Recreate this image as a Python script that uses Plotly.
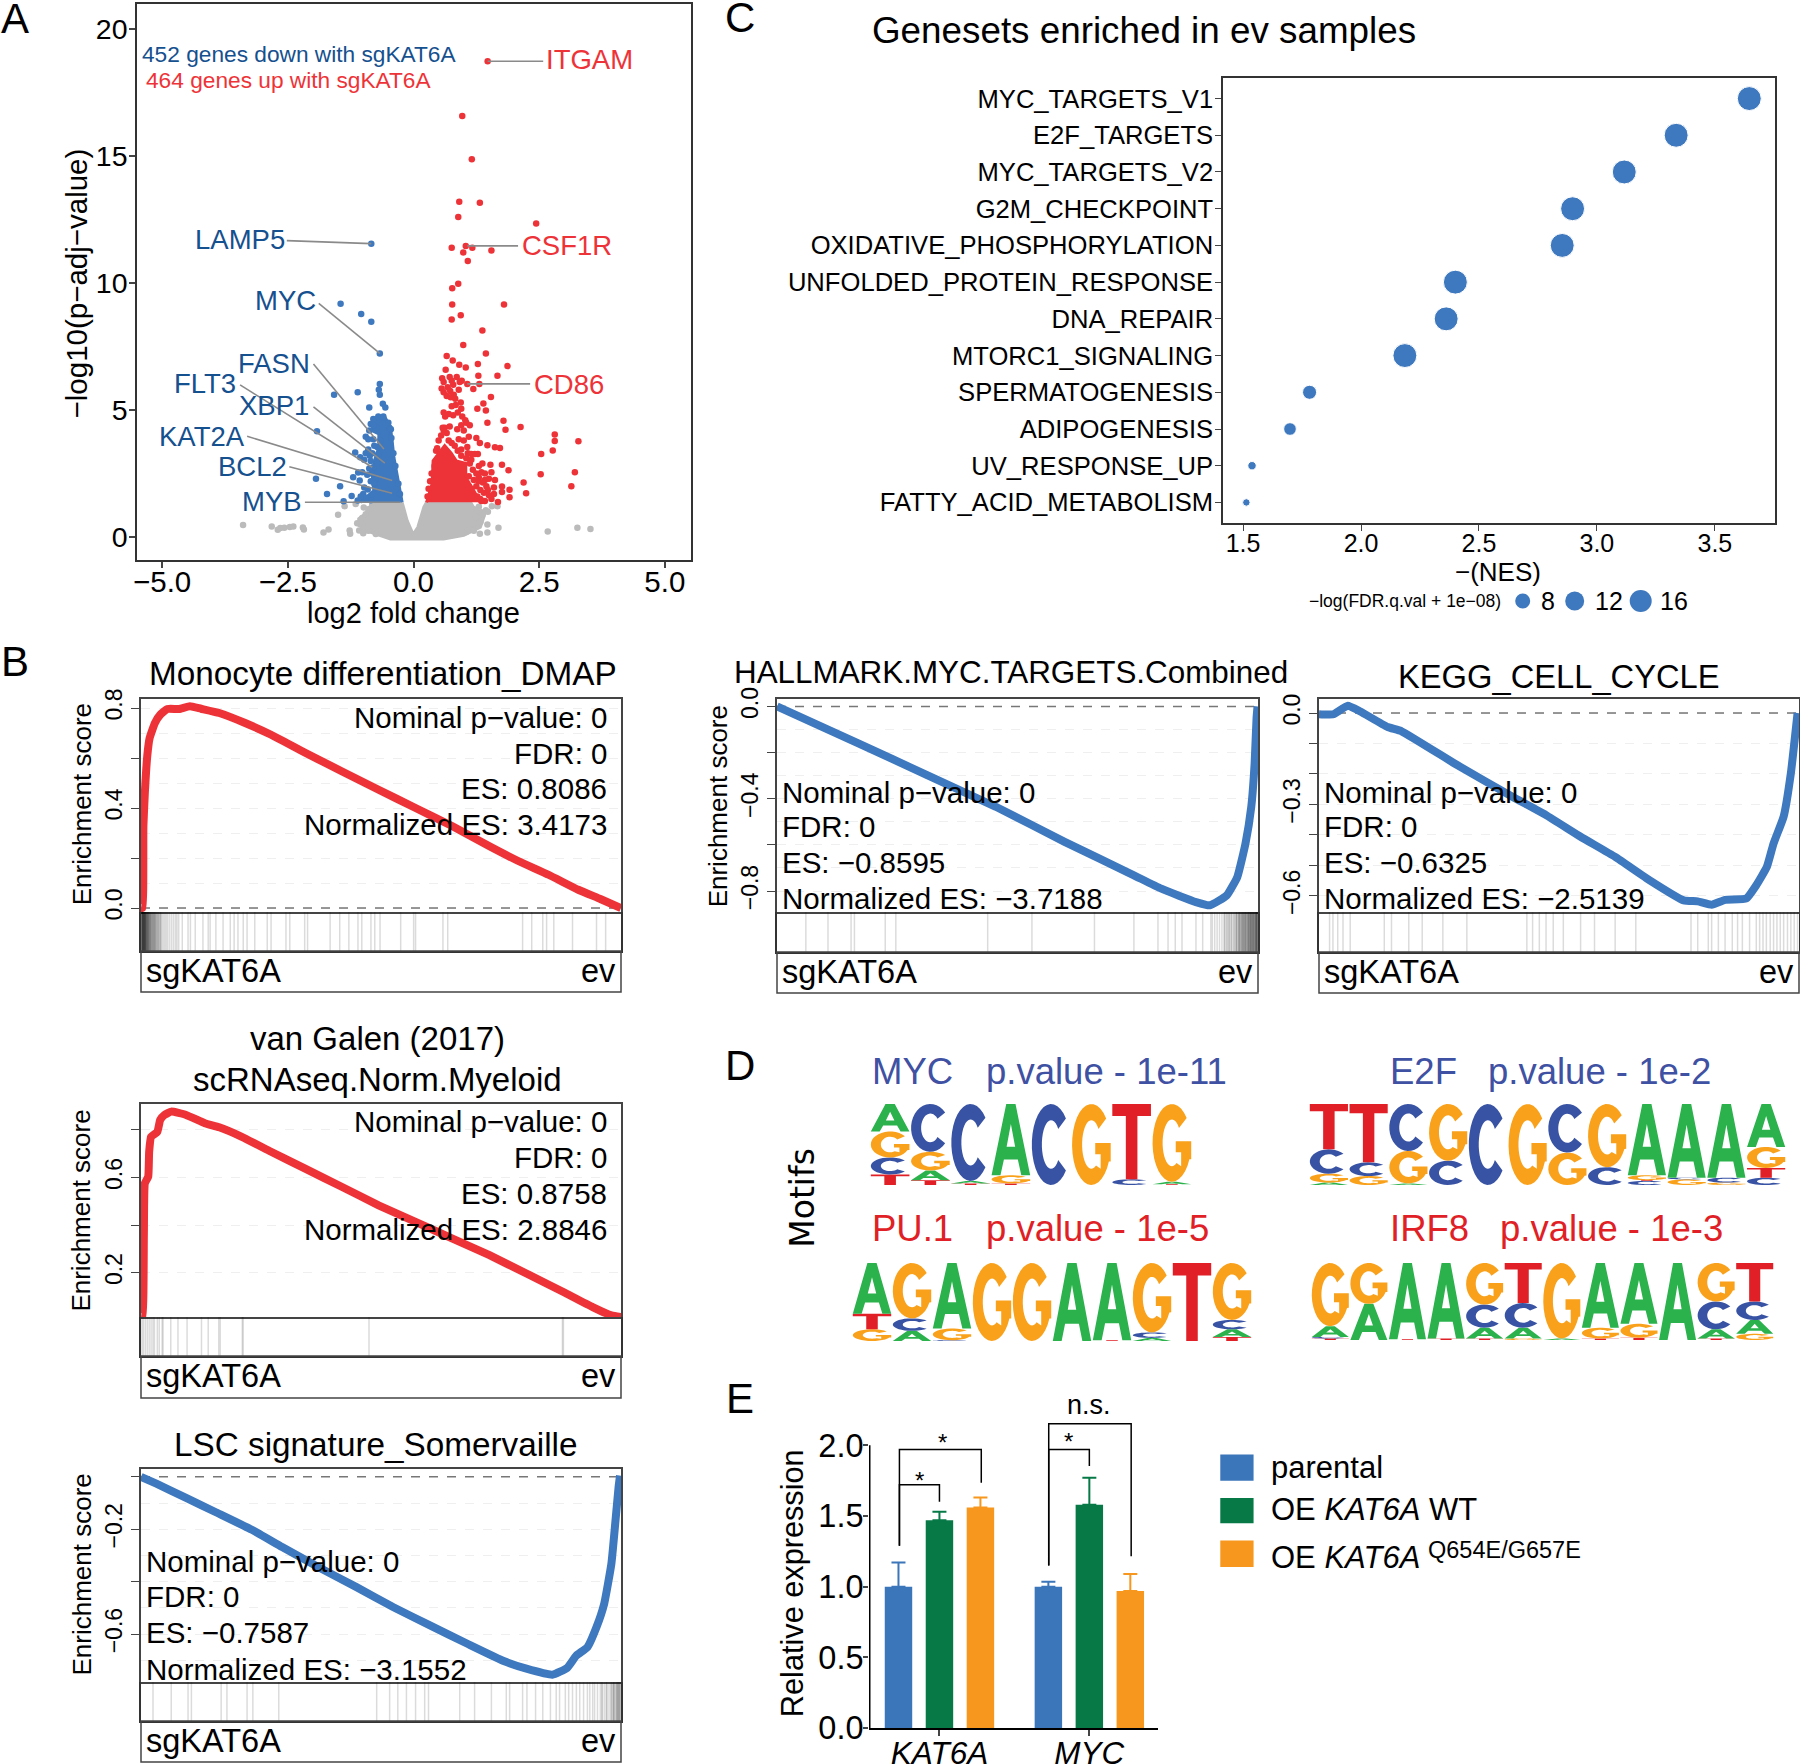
import numpy as np
import plotly.graph_objects as go

W, H = 1800, 1764
OV = 1800 / 1568      # overview picture -> full-size pixels
FONT = "Liberation Sans"
BLUE, RED, GREY = "#3E78BE", "#EE3338", "#BBBBBB"
LBL_BLUE, LBL_RED = "#15508F", "#EE3338"

# ---------- A: volcano ----------
GREY_MASS = [(-0.226, 1.37), (-0.126, 0.65), (-0.027, 0.2), (0, 0.13), (0.086, 0.39), (0.206, 1.18), (0.26, 1.37),
             (1.135, 1.37), (1.27, 0.92), (1.40, 0.79), (1.33, 0.39), (1.0, 0.07), (0.6, -0.07), (-0.46, -0.07),
             (-0.86, 0.2), (-1.09, 0.46), (-1.09, 0.72), (-0.956, 0.92), (-0.857, 1.24), (-0.79, 1.37)]
GREY_PTS = [(-3.39, .48), (-2.82, .42), (-2.70, .29), (-2.65, .36), (-2.57, .37), (-2.46, .40), (-2.39, .42), (-2.2, .38),
            (-2.18, .30), (-1.79, .18), (-1.69, .30), (-1.27, .26), (-1.26, .13), (-1.08, .26), (-1.50, .88), (-1.37, 1.22),
            (-.99, 1.17), (-1.15, 1.3), (1.47, .5), (1.47, .18), (1.32, .13), (1.69, .37), (1.67, 1.22), (1.56, 1.22),
            (1.44, 1.06), (1.35, .98), (1.48, 1.0), (2.67, .22), (3.26, .37), (3.52, .32), (1.26, .74), (1.2, 1.1),
            (1.15, 0.95), (1.1, 0.3), (1.2, .55), (-1.0, .15), (-1.12, .55), (-0.98, .36), (-1.05, .6), (-1.02, .75), (-.95, .9),
            (-.9, 1.1), (-.82, 1.28), (1.3, 1.2), (1.25, 1.05), (1.38, .9), (1.33, .6), (1.2, .25), (1.05, .2), (-.75, .12), (-.9, .25)]
BLUE_MASS = [(-0.226, 1.37), (-0.325, 2.36), (-0.39, 3.14), (-0.425, 3.80), (-0.458, 4.32), (-0.558, 4.69), (-0.757, 4.69),
             (-0.823, 4.19), (-0.69, 4.06), (-0.69, 3.53), (-0.757, 3.14), (-0.823, 2.49), (-0.79, 1.83), (-1.06, 1.37)]
BLUE_PTS = [(-0.84, 11.55), (-1.45, 9.18), (-1.04, 8.78), (-0.84, 8.48), (-0.67, 7.23), (-0.67, 6.03), (-0.69, 5.8),
            (-0.67, 5.6), (-1.11, 5.7), (-1.58, 5.6), (-0.61, 5.25), (-0.56, 5.1), (-0.88, 5.1), (-1.92, 4.17), (-1.16, 3.33),
            (-1.06, 3.14), (-0.87, 3.2), (-0.82, 3.3), (-1.2, 2.36), (-1.10, 2.54), (-1.02, 2.55), (-1.94, 2.30), (-1.46, 2.0),
            (-1.72, 1.70), (-1.23, 1.62), (-1.07, 2.23), (-0.91, 1.87), (-1.39, 1.41), (-1.11, 1.44), (-0.99, 1.48),
            (-0.95, 3.95), (-0.9, 3.85), (-0.88, 4.2), (-0.85, 4.45), (-0.8, 4.65), (-0.48, 4.3), (-0.45, 4.25), (-0.85, 3.0),
            (-0.8, 2.75), (-0.83, 2.5), (-0.85, 2.2), (-0.98, 1.95), (-0.9, 1.5), (-0.85, 1.45), (-0.72, 3.55), (-0.62, 4.7),
            (-.75, 2.3), (-.78, 2.1), (-.72, 2.9), (-.7, 3.25), (-.66, 3.8), (-.74, 4.3), (-.8, 4.4), (-.7, 4.75), (-.6, 4.75),
            (-.5, 4.5), (-.44, 3.9), (-.4, 3.3), (-.36, 2.8), (-.3, 2.1), (-.27, 1.7), (-1.0, 1.7), (-.95, 1.55), (-1.05, 1.6),
            (-.88, 2.7), (-.92, 2.45), (-.9, 3.45), (-.95, 3.3), (-.98, 3.05), (-.78, 3.6), (-.8, 3.85)]
RED_MASS = [(0.26, 1.37), (0.37, 2.09), (0.39, 3.0), (0.5, 3.3), (0.62, 3.6), (0.75, 3.3), (0.85, 3.0), (1.04, 2.9),
            (1.04, 2.36), (1.2, 1.83), (1.33, 1.37)]
RED_PTS = [(1.475, 18.73), (0.97, 16.57), (1.16, 14.87), (0.91, 13.2), (1.32, 13.16), (0.89, 12.6), (2.44, 12.34), (0.76, 11.39),
           (1.04, 11.46), (1.17, 11.39), (0.99, 11.2), (1.55, 11.28), (1.08, 10.87), (0.89, 9.97), (0.77, 9.79), (0.77, 9.15),
           (1.80, 9.15), (0.94, 8.73), (0.76, 8.56), (1.37, 8.13), (0.99, 7.56), (1.44, 7.23), (0.66, 7.13), (0.78, 6.95),
           (1.28, 6.81), (0.91, 6.78), (1.04, 6.68), (1.87, 6.73), (0.64, 6.59), (1.29, 6.35), (1.67, 6.35), (1.07, 6.03),
           (1.31, 6.03), (1.19, 5.83), (1.54, 5.51), (1.39, 5.26), (1.27, 5.05), (1.44, 4.98), (1.79, 4.58), (1.47, 4.5),
           (2.13, 4.33), (1.83, 4.23), (2.81, 4.04), (2.81, 3.78), (3.28, 3.77), (2.77, 3.41), (2.54, 3.27), (1.32, 3.7),
           (1.47, 3.62), (1.62, 3.54), (1.72, 3.51), (1.37, 2.9), (1.53, 2.85), (1.76, 2.85), (1.89, 2.63), (3.21, 2.55),
           (2.53, 2.47), (2.19, 2.15), (3.14, 2.0), (1.76, 1.99), (1.91, 1.86), (2.24, 1.73), (1.91, 1.57), (1.68, 1.38),
           (1.76, 1.78), (0.57, 6.25), (0.6, 6.1), (0.72, 6.3), (0.76, 6.15), (0.86, 6.3), (0.92, 6.1), (0.96, 6.15), (0.79, 6.0),
           (0.56, 5.85), (0.6, 5.7), (0.68, 5.9), (0.73, 5.75), (0.8, 5.6), (0.66, 5.55), (0.74, 5.5), (0.9, 5.8), (0.83, 5.45),
           (0.94, 5.3), (0.76, 5.15), (0.84, 5.2), (0.95, 5.05), (0.6, 4.9), (0.7, 4.85), (0.79, 4.8), (0.88, 4.9), (0.97, 4.75),
           (1.03, 4.6), (0.63, 4.75), (1.05, 4.5), (1.12, 4.4), (0.95, 4.4), (0.62, 4.3), (0.72, 4.35), (0.87, 4.25), (1.0, 4.2),
           (1.1, 3.95), (1.25, 3.9), (0.9, 3.85), (1.0, 3.8), (1.07, 3.55), (0.95, 3.45), (1.08, 3.3), (1.15, 3.27), (1.22, 3.27),
           (1.28, 3.27), (1.12, 2.9), (1.18, 2.65), (1.25, 2.5), (1.35, 2.55), (1.42, 2.5), (1.5, 2.3), (1.55, 2.55), (1.62, 2.25),
           (1.1, 2.4), (1.2, 2.25), (1.3, 2.2), (1.38, 2.15), (1.45, 2.0), (1.6, 1.95), (1.25, 2.0), (1.33, 1.85), (1.15, 1.9),
           (1.4, 1.75), (1.5, 1.65), (1.27, 1.6), (1.33, 1.5), (1.42, 1.42), (1.2, 1.55), (1.1, 2.0), (1.35, 1.42), (0.45, 3.4),
           (.47, 3.5), (.5, 3.8), (.55, 4.0), (.6, 4.2), (.66, 4.1), (.7, 3.8), (.76, 3.7), (.82, 3.6), (.88, 3.4), (.95, 3.2),
           (.58, 4.3), (.42, 2.8), (.36, 2.5), (.33, 2.2), (.3, 1.9), (.28, 1.6), (1.3, 2.8), (1.15, 3.05), (1.05, 3.1),
           (1.42, 2.25), (1.48, 1.85), (1.55, 1.5), (1.6, 1.7), (1.3, 2.35)]
LEADERS = [((-2.52, 11.67), (-0.84, 11.55)), ((-1.885, 9.2), (-0.67, 7.23)), ((-1.99, 6.81), (-0.59, 3.47)),
           ((-3.45, 5.99), (-0.82, 2.75)), ((-1.99, 5.13), (-0.57, 2.91)), ((-3.31, 3.97), (-0.425, 2.23)),
           ((-2.47, 2.77), (-0.425, 1.73)), ((-2.16, 1.37), (-0.26, 1.37)), ((1.475, 18.73), (2.58, 18.73)),
           ((1.07, 11.46), (2.08, 11.46)), ((1.07, 6.03), (2.32, 6.03))]
VOLC_XTICKS = [-5, -2.5, 0, 2.5, 5]
VOLC_XLABELS = ["−5.0", "−2.5", "0.0", "2.5", "5.0"]
VOLC_YTICKS = [0, 5, 10, 15, 20]

# ---------- B: GSEA running scores ----------
DMAP_X = [0, .003, .005, .008, .013, .018, .029, .04, .055, .079, .102, .125, .163, .217, .271, .34, .418, .495, .572, .649, .726, .787, .849, .911, .957, 1]
DMAP_Y = [0, 0, .327, .46, .607, .68, .74, .773, .796, .796, .807, .797, .78, .74, .693, .623, .547, .473, .40, .327, .247, .187, .133, .073, .036, 0]
DMAP_RUG = [.001, .002, .003, .004, .005, .006, .007, .008, .009, .010, .011, .012, .013, .014, .015, .016, .017, .018, .019, .020,
            .021, .023, .024, .026, .027, .029, .03, .032, .034, .036, .038, .04, .042, .044, .047, .05, .053, .056, .06, .064, .068,
            .072, .075, .0786, .086, .098, .103, .113, .129, .14, .144, .156, .171, .186, .194, .202, .213, .221, .237, .263, .271,
            .302, .31, .341, .347, .394, .414, .433, .452, .46, .479, .487, .498, .541, .568, .572, .629, .639, .795, .814, .837,
            .845, .86, .899, .949, .968,
            .001, .0015, .002, .0025, .003, .0035, .004, .0045, .005, .0055, .006, .0065, .007, .0075, .008, .0085, .009, .0095, .01,
            .011, .012, .013, .014, .015, .016, .018, .02, .022, .024, .026, .028, .03, .033, .036, .04]
GALEN_X = [0, .003, .006, .008, .015, .017, .021, .034, .04, .049, .063, .094, .133, .163, .21, .271, .341, .418, .495, .572, .649, .726, .803, .88, .941, .98, 1]
GALEN_Y = [.013, .013, .364, .575, .603, .708, .771, .792, .842, .863, .877, .863, .828, .811, .771, .708, .638, .561, .483, .413, .343, .273, .196, .118, .055, .02, .013]
GALEN_RUG = [.002, .005, .009, .013, .017, .021, .025, .028, .034, .038, .044, .046, .062, .077, .096, .126, .14, .162, .165, .211, .213, .475, .878, .88]
LSC_X = [0, .032, .094, .156, .233, .294, .371, .448, .525, .602, .68, .757, .803, .857, .888, .907, .93, .949, .965, .98, .988, .995, .998]
LSC_Y = [0, -.026, -.08, -.135, -.204, -.268, -.346, -.42, -.497, -.567, -.637, -.704, -.732, -.755, -.729, -.682, -.65, -.573, -.484, -.331, -.178, -.038, .005]
LSC_RUG = [.025, .063, .098, .105, .167, .179, .221, .233, .287, .491, .518, .535, .553, .572, .591, .599, .664, .695, .73, .761, .768,
           .795, .804, .822, .837, .853, .865, .872, .884, .891, .899, .907, .914, .922, .93, .935, .941, .945, .951, .957, .961, .965,
           .969, .973, .977, .98, .984, .986, .99, .992, .994, .997, .999, .96, .97, .98, .983, .985, .988, .991, .993, .995, .996, .998]
MYC_X = [0, .168, .311, .455, .598, .742, .799, .871, .90, .935, .957, .974, .986, .993, .997, .999]
MYC_Y = [0, -.159, -.297, -.435, -.587, -.732, -.79, -.848, -.862, -.819, -.739, -.594, -.435, -.246, -.05, 0]
MYC_RUG = [.06, .106, .154, .161, .225, .247, .438, .53, .66, .742, .792, .813, .828, .842, .871, .885, .902, .905, .91, .915, .92,
           .925, .93, .933, .937, .94, .943, .946, .95, .953, .956, .958, .96, .962, .964, .966, .968, .97, .972, .974, .976, .978,
           .98, .982, .984, .986, .988, .99, .992, .994, .996, .998, .999, .955, .961, .967, .973, .979, .985, .991, .997,
           .93, .935, .94, .945, .95, .955, .96, .963, .966, .969, .972, .975, .978, .981, .983, .985, .987, .989, .991, .993, .995,
           .996, .997, .998, .999, .97, .975, .98, .985, .99, .995, .982, .988, .994, .998]
KEGG_X = [0, .014, .03, .06, .086, .143, .172, .287, .402, .473, .545, .617, .689, .76, .789, .818, .846, .89, .911, .933, .947, .968, .983, .997]
KEGG_Y = [-.004, -.005, -.004, .024, .005, -.046, -.06, -.17, -.274, -.335, -.406, -.472, -.549, -.615, -.618, -.629, -.613, -.609, -.565, -.505, -.428, -.34, -.198, 0]
KEGG_RUG = [.022, .029, .039, .05, .065, .136, .151, .187, .215, .258, .308, .433, .445, .459, .473, .488, .509, .545, .574, .617, .66,
            .775, .789, .811, .818, .832, .846, .861, .872, .882, .897, .911, .918, .925, .932, .94, .947, .954, .961, .968, .976, .983, .99, .997]

# ---------- C: enriched genesets ----------
GENESETS = ["MYC_TARGETS_V1", "E2F_TARGETS", "MYC_TARGETS_V2", "G2M_CHECKPOINT", "OXIDATIVE_PHOSPHORYLATION",
            "UNFOLDED_PROTEIN_RESPONSE", "DNA_REPAIR", "MTORC1_SIGNALING", "SPERMATOGENESIS", "ADIPOGENESIS",
            "UV_RESPONSE_UP", "FATTY_ACID_METABOLISM"]
NES = [3.646, 3.336, 3.116, 2.897, 2.853, 2.40, 2.361, 2.186, 1.782, 1.699, 1.538, 1.514]
FDR_SCORE = [18, 18, 18, 18, 18, 18, 18, 18, 7.5, 6, 1.5, 0.5]

# ---------- D: motif logos, stacks bottom to top ----------
MOTIF_MYC = [[("T", .13), ("C", .21), ("G", .32), ("A", .34)], [("T", .06), ("A", .12), ("G", .23), ("C", .59)],
             [("T", .02), ("A", .03), ("C", .95)], [("T", .02), ("G", .10), ("A", .88)], [("C", 1)], [("G", 1)],
             [("C", .07), ("T", .93)], [("T", .01), ("A", .03), ("G", .96)]]
MOTIF_E2F = [[("A", .03), ("G", .11), ("C", .3), ("T", .56)], [("G", .11), ("C", .17), ("T", .72)], [("A", .02), ("G", .4), ("C", .58)],
             [("C", .3), ("G", .7)], [("C", 1)], [("G", 1)], [("G", .4), ("C", .6)], [("C", .22), ("G", .78)],
             [("C", .05), ("T", .01), ("G", .06), ("A", .88)], [("G", .07), ("C", .02), ("A", .91)], [("G", .03), ("C", .06), ("A", .91)],
             [("C", .09), ("T", .12), ("G", .26), ("A", .53)]]
MOTIF_PU1 = [[("G", .15), ("T", .2), ("A", .65)], [("A", .13), ("C", .16), ("G", .71)], [("C", .01), ("G", .15), ("A", .84)],
             [("G", 1)], [("G", 1)], [("A", 1)], [("T", .01), ("A", .99)], [("A", .04), ("C", .07), ("G", .89)], [("T", 1)],
             [("T", .05), ("A", .1), ("C", .12), ("G", .73)]]
MOTIF_IRF8 = [[("T", .02), ("C", .02), ("A", .14), ("G", .82)], [("A", .47), ("G", .53)], [("T", .01), ("A", .99)], [("T", .02), ("A", .98)],
              [("T", .02), ("A", .14), ("C", .30), ("G", .54)], [("G", .02), ("A", .14), ("C", .32), ("T", .52)], [("A", .02), ("G", .98)],
              [("T", .02), ("G", .14), ("A", .84)], [("T", .03), ("G", .18), ("A", .79)], [("A", 1)],
              [("T", .02), ("A", .12), ("C", .36), ("G", .50)], [("G", .08), ("A", .18), ("C", .24), ("T", .50)]]
BASE_COLORS = {"A": "#2BB24C", "C": "#3953A4", "G": "#F9A11B", "T": "#E01F26"}

# ---------- E: qPCR bars ----------
GENE_POS = [0, 1]
GENE_LABELS = ["<i>KAT6A</i>", "<i>MYC</i>"]
BAR_NAMES = ["parental", "OE KAT6A WT", "OE KAT6A Q654E/G657E"]
BAR_COLORS = ["#3B75BA", "#077947", "#F8971D"]
BAR_VALUES = [[1.0, 1.0], [1.47, 1.58], [1.56, 0.97]]
BAR_ERRORS = [[.17, .035], [.06, .19], [.07, .12]]
BRACKETS = [([-.267, -.267, .279, .279], [1.29, 1.97, 1.97, 1.735]), ([-.267, -.267, 0, 0], [1.29, 1.72, 1.72, 1.6]),
            ([.729, .729, 1.279, 1.279], [1.15, 2.153, 2.153, 1.215]), ([.729, .729, 1, 1], [1.15, 1.97, 1.97, 1.854])]

fig = go.Figure()
layout = dict(width=W, height=H, margin=dict(l=0, r=0, t=0, b=0), paper_bgcolor="white", plot_bgcolor="white",
              template="none", showlegend=False, font=dict(family=FONT, color="black"),
              barmode="group", bargap=.18, bargroupgap=.33)
annotations, shapes = [], []
n_axes = 0


def new_axes(l, t, r, b, xopts, yopts):
    """Make an x/y pair that covers the given pixel box."""
    global n_axes
    n_axes += 1
    s = "" if n_axes == 1 else str(n_axes)
    base = dict(showgrid=False, zeroline=False, automargin=False)
    layout["xaxis" + s] = {**base, "domain": [l / W, r / W], "anchor": "y" + s, **xopts}
    layout["yaxis" + s] = {**base, "domain": [1 - b / H, 1 - t / H], "anchor": "x" + s, **yopts}
    return "x" + s, "y" + s


def label_px(x, y, text, size, color="black", anchor="left", angle=0, family=FONT):
    # annotations carry about 2px of inner padding
    x += {"left": -2, "right": 2}.get(anchor, 0)
    annotations.append(dict(xref="paper", yref="paper", x=x / W, y=1 - y / H, text=text, showarrow=False, xanchor=anchor,
                            yanchor="middle", textangle=angle, font=dict(size=size, color=color, family=family)))


def label(x, y, text, size, color="black", anchor="left", angle=0, family=FONT):
    label_px(x * OV, y * OV, text, size, color, anchor, angle, family)


def box_px(x0, y0, x1, y1, line="#444444", fill=None, width=1.5, kind="rect"):
    shapes.append(dict(type=kind, xref="paper", yref="paper", x0=x0 / W, x1=x1 / W, y0=1 - y0 / H, y1=1 - y1 / H,
                       line=dict(color=line, width=width), fillcolor=fill, layer="below" if fill else "above"))


for letter, x, y in [("A", 13, 16), ("B", 13, 576), ("C", 645, 15), ("D", 645, 928), ("E", 645, 1218)]:
    label(x, y, letter, 42, anchor="center")

# ---------- panel A ----------
xa, ya = new_axes(137, 3.5, 691, 560,
                  dict(range=[-5.5, 5.52], tickvals=VOLC_XTICKS, ticktext=VOLC_XLABELS, ticks="outside", ticklen=6, tickwidth=2,
                       ticklabelstandoff=-11, showline=True, mirror=True, linecolor="#333333", linewidth=1.5, tickfont=dict(size=29.5)),
                  dict(range=[-0.9, 21], tickvals=VOLC_YTICKS, ticks="outside", ticklen=6, tickwidth=2, ticklabelstandoff=-4,
                       showline=True, mirror=True, linecolor="#333333", linewidth=1.5, tickfont=dict(size=28.5)))


def cloud(mass, pts, color):
    fig.add_trace(go.Scatter(x=[p[0] for p in mass], y=[p[1] for p in mass], mode="lines", fill="toself", fillcolor=color,
                             line=dict(color=color, width=3), xaxis=xa, yaxis=ya))
    fig.add_trace(go.Scatter(x=[p[0] for p in pts], y=[p[1] for p in pts], mode="markers",
                             marker=dict(color=color, size=6.5), xaxis=xa, yaxis=ya))


cloud(GREY_MASS, GREY_PTS, GREY)
cloud(BLUE_MASS, BLUE_PTS, BLUE)
cloud(RED_MASS, RED_PTS, RED)
for a, b in LEADERS:
    fig.add_trace(go.Scatter(x=[a[0], b[0]], y=[a[1], b[1]], mode="lines", line=dict(color="#8A8A8A", width=1.6), xaxis=xa, yaxis=ya))

label(124, 47, "452 genes down with sgKAT6A", 22.7, LBL_BLUE)
label(127, 70, "464 genes up with sgKAT6A", 22.7, LBL_RED)
for text, x, y in [("LAMP5", 248, 209), ("MYC", 275, 262), ("FASN", 270, 317), ("FLT3", 206, 334), ("XBP1", 269, 353),
                   ("KAT2A", 213, 380), ("BCL2", 250, 406), ("MYB", 263, 437)]:
    label(x, y, text, 27.5, LBL_BLUE, anchor="right")
for text, x, y in [("ITGAM", 476, 52), ("CSF1R", 455, 214), ("CD86", 465, 335)]:
    label(x, y, text, 27.5, LBL_RED)
label(67, 247, "−log10(p−adj−value)", 29.5, anchor="center", angle=-90)
label(360, 534, "log2 fold change", 29, anchor="center")


# ---------- panel B ----------
def gsea_panel(l, r, t, m, rb, b, xs, ys, rug, color, yrange, yticks, ylabels, minor, zero_line):
    x1, y1 = new_axes(l, t, r, m,
                      dict(range=[0, 1], showticklabels=False, showline=True, mirror=True, linecolor="#444444", linewidth=1.5),
                      dict(range=yrange, tickvals=yticks, ticktext=ylabels, ticks="outside", ticklen=8, tickwidth=1.2,
                           tickangle=-90, tickfont=dict(size=23), showgrid=True, gridcolor="#EFEFEF", griddash="dash",
                           showline=True, mirror=True, linecolor="#444444", linewidth=1.5,
                           minor=dict(tickvals=minor, showgrid=True, gridcolor="#EFEFEF", griddash="dash", ticks="")))
    if zero_line:
        fig.add_trace(go.Scatter(x=[0, 1], y=[0, 0], mode="lines", line=dict(color="#777777", width=1.5, dash="dash"), xaxis=x1, yaxis=y1))
    fig.add_trace(go.Scatter(x=xs, y=ys, mode="lines", line=dict(color=color, width=8, shape="spline", smoothing=.4), xaxis=x1, yaxis=y1))
    x2, y2 = new_axes(l, m, r, rb,
                      dict(range=[0, 1], showticklabels=False, showline=True, mirror=False, linecolor="#333333", linewidth=1.5),
                      dict(range=[0, 1], showticklabels=False, showline=True, mirror=True, linecolor="#333333", linewidth=1.5))
    fig.add_trace(go.Scatter(x=rug, y=[0.5] * len(rug), mode="markers", xaxis=x2, yaxis=y2,
                             marker=dict(symbol="line-ns", size=rb - m - 2, line=dict(color="rgba(0,0,0,0.14)", width=1.5))))
    box_px(l, rb, r, b)
    label_px(l + 5, (rb + b) / 2 - 1, "sgKAT6A", 32.5)
    label_px(r - 5, (rb + b) / 2 - 1, "ev", 32.5, anchor="right")


def stats(x, ys, lines, anchor):
    for y, text in zip(ys, lines):
        label(x, y, text, 29.5, anchor=anchor)


gsea_panel(141, 621, 699, 912, 951, 992, DMAP_X, DMAP_Y, DMAP_RUG, RED, [-.016, .836], [0, .2, .4, .6, .8],
           ["0.0", " ", "0.4", " ", "0.8"], [.1, .3, .5, .7], True)
gsea_panel(141, 621, 1104, 1317, 1356, 1398, GALEN_X, GALEN_Y, GALEN_RUG, RED, [.013, .909], [.2, .4, .6, .8],
           ["0.2", " ", "0.6", " "], [], False)
gsea_panel(141, 621, 1469, 1682, 1721, 1762, LSC_X, LSC_Y, LSC_RUG, BLUE, [-.783, .03], [-.6, -.4, -.2, 0],
           ["−0.6", " ", "−0.2", " "], [-.7, -.5, -.3, -.1], True)
gsea_panel(777, 1258, 699, 912, 952, 993, MYC_X, MYC_Y, MYC_RUG, BLUE, [-.891, .032], [-.8, -.6, -.4, -.2, 0],
           ["−0.8", " ", "−0.4", " ", "0.0"], [-.7, -.5, -.3, -.1], True)
gsea_panel(1319, 1799, 699, 912, 952, 993, KEGG_X, KEGG_Y, KEGG_RUG, BLUE, [-.653, .046], [-.6, -.5, -.4, -.3, -.2, -.1, 0],
           ["−0.6", " ", " ", "−0.3", " ", " ", "0.0"], [], True)

label(334, 587, "Monocyte differentiation_DMAP", 33.3, anchor="center")
label(329, 905, "van Galen (2017)", 33, anchor="center")
label(329, 940, "scRNAseq.Norm.Myeloid", 33, anchor="center")
label(327, 1258, "LSC signature_Somervaille", 33.3, anchor="center")
label(881, 586, "HALLMARK.MYC.TARGETS.Combined", 31.4, anchor="center")
label(1358, 589, "KEGG_CELL_CYCLE", 32.7, anchor="center")
for x, y in [(71, 701), (71, 1055), (71, 1372), (625, 702)]:
    label(x, y, "Enrichment score", 26, anchor="center", angle=-90)
stats(529, [625, 656, 687, 718], ["Nominal p−value: 0", "FDR: 0", "ES: 0.8086", "Normalized ES: 3.4173"], "right")
stats(529, [977, 1008, 1040, 1071], ["Nominal p−value: 0", "FDR: 0", "ES: 0.8758", "Normalized ES: 2.8846"], "right")
stats(127, [1360, 1391, 1422, 1454], ["Nominal p−value: 0", "FDR: 0", "ES: −0.7587", "Normalized ES: −3.1552"], "left")
stats(681, [690, 720, 751, 783], ["Nominal p−value: 0", "FDR: 0", "ES: −0.8595", "Normalized ES: −3.7188"], "left")
stats(1153, [690, 720, 751, 783], ["Nominal p−value: 0", "FDR: 0", "ES: −0.6325", "Normalized ES: −2.5139"], "left")

# ---------- panel C ----------
xc, yc = new_axes(1223, 78, 1775, 523,
                  dict(range=[1.415, 3.755], tickvals=[1.5, 2, 2.5, 3, 3.5], ticktext=["1.5", "2.0", "2.5", "3.0", "3.5"],
                       ticks="outside", ticklen=6, ticklabelstandoff=-9, showline=True, mirror=True, linecolor="#333333", linewidth=1.5,
                       tickfont=dict(size=25)),
                  dict(type="category", categoryorder="array", categoryarray=GENESETS, range=[11.56, -0.56], ticks="outside", ticklen=6,
                       ticklabelstandoff=-3, showline=True, mirror=True, linecolor="#333333", linewidth=1.5, tickfont=dict(size=25.6)))
fig.add_trace(go.Scatter(x=NES, y=GENESETS, mode="markers", xaxis=xc, yaxis=yc,
                         marker=dict(color=BLUE, opacity=1, size=[7 + .94 * s for s in FDR_SCORE])))
label(760, 27, "Genesets enriched in ev samples", 36.8)
label_px(1498, 572, "−(NES)", 26, anchor="center")
label_px(1309, 601, "−log(FDR.q.val + 1e−08)", 17.5)
for x, diam, text, tx in [(1522.7, 15, "8", 1541), (1574.7, 19, "12", 1595), (1640.7, 22, "16", 1660)]:
    box_px(x - diam / 2, 601 - diam / 2, x + diam / 2, 601 + diam / 2, line=BLUE, fill=BLUE, width=0, kind="circle")
    label_px(tx, 601, text, 25)


# ---------- panel D ----------
def arc(rx, ry, start, end, n=28):
    ang = np.radians(np.linspace(start, end, n))
    return list(zip(.5 + rx * np.cos(ang), .5 + ry * np.sin(ang)))


GLYPHS = {
    "A": [[(0, 0), (.23, 0), (.32, .22), (.68, .22), (.77, 0), (1, 0), (.62, 1), (.38, 1)], [(.39, .4), (.61, .4), (.5, .72)]],
    "T": [[(0, 1), (1, 1), (1, .84), (.65, .84), (.65, 0), (.35, 0), (.35, .84), (0, .84)]],
    "C": [arc(.5, .5, 40, 320) + arc(.24, .3, 320, 40)],
    "G": [arc(.5, .5, 40, 335) + [(1, .29), (1, .52), (.6, .52), (.6, .38), (.74, .38), (.74, .2)] + arc(.24, .3, 300, 40)],
}


def logo(l, t, r, b, motif):
    xl, yl = new_axes(l, t, r, b, dict(range=[0, len(motif)], visible=False), dict(range=[0, 1], visible=False))
    for pos, stack in enumerate(motif):
        bottom = 0
        for base, height in stack:
            path = ""
            for poly in GLYPHS[base]:
                pts = [(pos + .02 + .96 * px, bottom + height * py) for px, py in poly]
                path += "M" + "L".join(f"{a:.4f},{c:.4f}" for a, c in pts) + "Z"
            shapes.append(dict(type="path", path=path, xref=xl, yref=yl, fillcolor=BASE_COLORS[base], line=dict(width=0)))
            bottom += height


logo(870, 1104, 1192, 1185, MOTIF_MYC)
logo(1309, 1104, 1786, 1185, MOTIF_E2F)
logo(852, 1263, 1252, 1341, MOTIF_PU1)
logo(1311, 1263, 1774, 1340, MOTIF_IRF8)
for x1, x2, y, name, color, pval in [(760, 859, 933, "MYC", "#3F51A3", "p.value - 1e-11"), (1211, 1296, 933, "E2F", "#3F51A3", "p.value - 1e-2"),
                                     (760, 859, 1070, "PU.1", "#E01F26", "p.value - 1e-5"), (1211, 1307, 1070, "IRF8", "#E01F26", "p.value - 1e-3")]:
    label(x1, y, name, 36.5, color)
    label(x2, y, pval, 36.5, color)
label(699, 1043, "Motifs", 33, anchor="center", angle=-90, family="DejaVu Sans")

# ---------- panel E ----------
# y axis runs past 2.0 so the n.s. bracket is not clipped; its line is drawn only up to 2.0
xe, ye = new_axes(869, 1417, 1158, 1728,
                  dict(range=[-.47, 1.458], tickvals=GENE_POS, ticktext=GENE_LABELS, ticks="outside", ticklen=6, tickwidth=1.5,
                       ticklabelstandoff=-10, showline=True, linecolor="black", linewidth=1.5, tickfont=dict(size=31.5)),
                  dict(range=[0, 2.2], tickvals=[0, .5, 1, 1.5, 2], ticktext=["0.0", "0.5", "1.0", "1.5", "2.0"], ticks="outside", ticklen=5,
                       tickwidth=1.5, ticklabelstandoff=-7, showline=False, tickfont=dict(size=32.5)))
for name, vals, errs, color in zip(BAR_NAMES, BAR_VALUES, BAR_ERRORS, BAR_COLORS):
    fig.add_trace(go.Bar(x=GENE_POS, y=vals, name=name, marker=dict(color=color, line=dict(width=0)), xaxis=xe, yaxis=ye,
                         error_y=dict(type="data", symmetric=False, array=errs, arrayminus=[0, 0], color=color, thickness=2, width=7)))
fig.add_trace(go.Scatter(x=[-.47, -.47], y=[0, 2], mode="lines", line=dict(color="black", width=3), xaxis=xe, yaxis=ye))
for bx, by in BRACKETS:
    fig.add_trace(go.Scatter(x=bx, y=by, mode="lines", line=dict(color="black", width=1.5), xaxis=xe, yaxis=ye))
for x, y in [(942, 1442), (920, 1480), (1068, 1441)]:
    label_px(x, y, "*", 24, anchor="center")
label_px(1089, 1405, "n.s.", 27, anchor="center")
label(690, 1379, "Relative expression", 30.7, anchor="center", angle=-90)
for y0, y1, color in zip([1267, 1305, 1342], [1290, 1327, 1365], BAR_COLORS):
    box_px(1063 * OV, y0 * OV, 1092 * OV, y1 * OV, line=color, fill=color, width=0)
label(1107, 1278, "parental", 31)
label(1107, 1315, "OE <i>KAT6A</i> WT", 31)
label(1107, 1357, "OE <i>KAT6A</i>", 31)
label(1244, 1350, "Q654E/G657E", 23.5)

layout["annotations"] = annotations
layout["shapes"] = shapes
fig.update_layout(**layout)
# no mode bar, and the browser's default body margin would push the figure 8px off the page
fig.write_html("out.html", config=dict(displayModeBar=False), post_script="document.body.style.margin='0';")
